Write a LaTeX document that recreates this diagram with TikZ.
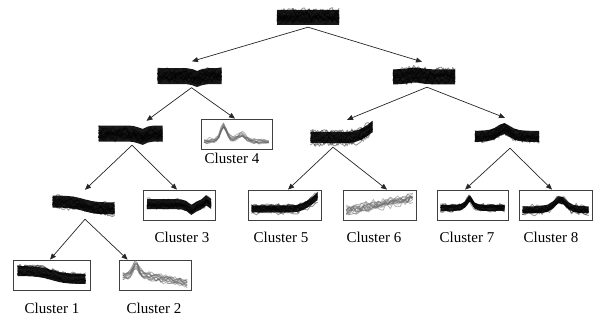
\documentclass[tikz,border=0pt]{standalone}
\usepackage{fontspec}
\setmainfont{Liberation Serif}
\usetikzlibrary{arrows.meta,calc}
\tikzset{
  declare function={
    bump(\bx,\bc,\bw)=(1/(1+((\bx-\bc)/\bw)*((\bx-\bc)/\bw)))*(1/(1+((\bx-\bc)/\bw)*((\bx-\bc)/\bw)));
    sig(\bx,\bc,\bk)=1/(1+exp(-(\bx-\bc)*\bk));
  },
  blobnode/.style={inner sep=0pt, minimum height=22pt},
  clbox/.style={draw=black!75, line width=0.8pt, inner sep=0pt, minimum height=30pt},
  wave/.style={line width=0.9pt, line join=round, line cap=round},
  dense/.style={black, opacity=0.4},
  sparse/.style={black!60, opacity=0.45},
  corefill/.style={fill=black, fill opacity=0.9},
  conn/.style={draw=black!85, line width=0.7pt, -{Triangle[length=6pt,width=5pt]}},
  cllabel/.style={font=\fontsize{15pt}{17pt}\selectfont, inner sep=0pt},
}
% #1 node, #2 profile in \x, #3 lines, #4 spread, #5 noise, #6 style, #7 half width
\newcommand\wvbundle[7]{%
  \begin{scope}[shift={(#1.center)}]
    \foreach \k in {1,...,#3}{
      \pgfmathsetmacro\wvoff{#4*rand}
      \draw[wave,#6] plot[domain=0:1,samples=28] ({#7*(2*\x-1)},{(#2)+\wvoff+#5*rand});
    }
  \end{scope}
}
% #1 node, #2 profile, #3 half width, #4 core half height
\newcommand\wvcore[4]{%
  \begin{scope}[shift={(#1.center)}]
    \path[corefill] plot[domain=0:1,samples=14] ({#3*(2*\x-1)},{(#2)-#4})
      -- plot[domain=1:0,samples=14] ({#3*(2*\x-1)},{(#2)+#4}) -- cycle;
  \end{scope}
}
\begin{document}
\begin{tikzpicture}[x=1pt,y=-1pt]
\pgfmathsetseed{7}
\useasboundingbox (0,0) rectangle (596,320);

% internal bundles
\node[blobnode, minimum width=64pt, minimum height=20pt] (root) at (308,17) {};
\node[blobnode, minimum width=65pt, minimum height=23pt] (l1l) at (189.5,76) {};
\node[blobnode, minimum width=62pt, minimum height=22pt] (l1r) at (424,76) {};
\node[blobnode, minimum width=65pt, minimum height=23pt] (ll) at (130.5,133.5) {};
\node[blobnode, minimum width=63pt, minimum height=25pt] (rl) at (341.5,134.5) {};
\node[blobnode, minimum width=64pt, minimum height=23pt] (rr) at (507,133.5) {};
\node[blobnode, minimum width=63pt, minimum height=21pt] (l3) at (83.5,205.5) {};

% cluster boxes
\node[clbox, minimum width=77pt] (c1) at (51.5,275) {};
\node[clbox, minimum width=72pt] (c2) at (155,275) {};
\node[clbox, minimum width=72pt] (c3) at (179,205) {};
\node[clbox, minimum width=71pt] (c4) at (236.5,134) {};
\node[clbox, minimum width=73pt] (c5) at (284.5,205) {};
\node[clbox, minimum width=73pt] (c6) at (379.5,205) {};
\node[clbox, minimum width=71pt] (c7) at (472.5,205) {};
\node[clbox, minimum width=73pt] (c8) at (555.5,205) {};

% labels
\node[cllabel] (c1l) at (52,308) {Cluster 1};
\node[cllabel] (c2l) at (154,308) {Cluster 2};
\node[cllabel] (c3l) at (182,237) {Cluster 3};
\node[cllabel] (c4l) at (232,158) {Cluster 4};
\node[cllabel] (c5l) at (281,237) {Cluster 5};
\node[cllabel] (c6l) at (374,237) {Cluster 6};
\node[cllabel] (c7l) at (467,237) {Cluster 7};
\node[cllabel] (c8l) at (551,237) {Cluster 8};

% dense cores
\wvcore{root}{0.5}{31}{7.5}
\wvcore{l1l}{3*bump(\x,0.62,0.1)}{32}{8}
\wvcore{l1r}{1-2*bump(\x,0.35,0.2)}{31}{7.5}
\wvcore{ll}{3.5*bump(\x,0.68,0.1)}{32}{8}
\wvcore{rl}{3-70*max(\x-0.6,0)*max(\x-0.6,0)}{31}{5.5}
\wvcore{rr}{3-8*bump(\x,0.45,0.18)}{32}{5.5}
\wvcore{l3}{-4+7*sig(\x,0.5,10)}{31}{6}
\wvcore{c1}{-4+8*sig(\x,0.5,10)}{34}{5}
\wvcore{c3}{-1+6*bump(\x,0.7,0.1)-4*bump(\x,0.93,0.04)}{32}{5}
\wvcore{c5}{4-80*max(\x-0.6,0)*max(\x-0.6,0)}{33}{3.5}
\wvcore{c7}{3-10*bump(\x,0.45,0.08)}{32}{3}
\wvcore{c8}{5-11*bump(\x,0.57,0.16)}{33}{3.5}

% noisy traces
\wvbundle{root}{0}{14}{6}{4}{dense}{31}
\wvbundle{l1l}{3*bump(\x,0.62,0.1)-1}{14}{6}{4}{dense}{32}
\wvbundle{l1r}{-2*bump(\x,0.35,0.2)}{14}{6}{4}{dense}{31}
\wvbundle{ll}{3.5*bump(\x,0.68,0.1)}{14}{6}{4}{dense}{32}
\wvbundle{rl}{3-70*max(\x-0.6,0)*max(\x-0.6,0)}{12}{6}{3.5}{dense}{31}
\wvbundle{rr}{3-8*bump(\x,0.45,0.18)}{12}{6}{3.5}{dense}{32}
\wvbundle{l3}{-4+7*sig(\x,0.5,10)}{12}{5.5}{3}{dense}{31}

\wvbundle{c1}{-4+8*sig(\x,0.5,10)}{10}{5}{2.5}{dense}{34}
\wvbundle{c2}{1+12*max(\x-0.4,0)-12*bump(\x,0.2,0.08)}{12}{3}{2}{sparse}{32}
\wvbundle{c3}{-1+6*bump(\x,0.7,0.1)-4*bump(\x,0.93,0.04)}{10}{5}{2.5}{dense}{32}
\wvbundle{c4}{7-16*bump(\x,0.3,0.09)-7*bump(\x,0.58,0.12)}{10}{2}{1.5}{sparse}{32}
\wvbundle{c5}{4-80*max(\x-0.6,0)*max(\x-0.6,0)}{10}{4}{2.5}{dense}{33}
\wvbundle{c6}{6-13*\x}{12}{4}{3}{sparse}{33}
\wvbundle{c7}{3-10*bump(\x,0.45,0.08)}{10}{3.5}{2}{dense}{32}
\wvbundle{c8}{5-11*bump(\x,0.57,0.16)}{10}{4}{2.5}{dense}{33}

% connectors
\draw[conn] (root.south) -- ([xshift=2.5pt,yshift=3pt]l1l.north);
\draw[conn] (root.south) -- ([xshift=-2pt,yshift=3pt]l1r.north);
\draw[conn] ([xshift=2pt]l1l.south) -- ([xshift=16pt,yshift=1pt]ll.north);
\draw[conn] ([xshift=2pt]l1l.south) -- ([xshift=-1.5pt]c4.north);
\draw[conn] ([xshift=1.5pt]ll.south) -- ([xshift=1.5pt,yshift=5pt]l3.north);
\draw[conn] ([xshift=1.5pt]ll.south) -- ([xshift=-2pt]c3.north);
\draw[conn] ([xshift=1.5pt,yshift=-3pt]l3.south) -- ([xshift=-1.5pt]c1.north);
\draw[conn] ([xshift=1.5pt,yshift=-3pt]l3.south) -- ([xshift=9pt]c2.north west);
\draw[conn] ([xshift=3pt]l1r.south) -- ([xshift=5.5pt,yshift=2pt]rl.north);
\draw[conn] ([xshift=3pt]l1r.south) -- ([xshift=-2pt,yshift=4pt]rr.north);
\draw[conn] ([xshift=-8.5pt]rl.south) -- ([xshift=3.5pt]c5.north);
\draw[conn] ([xshift=-8.5pt]rl.south) -- ([xshift=7.5pt]c6.north);
\draw[conn] ([xshift=3pt,yshift=-3pt]rr.south) -- ([xshift=-7.5pt]c7.north);
\draw[conn] ([xshift=3pt,yshift=-3pt]rr.south) -- ([xshift=-3.5pt]c8.north);
\end{tikzpicture}
\end{document}
